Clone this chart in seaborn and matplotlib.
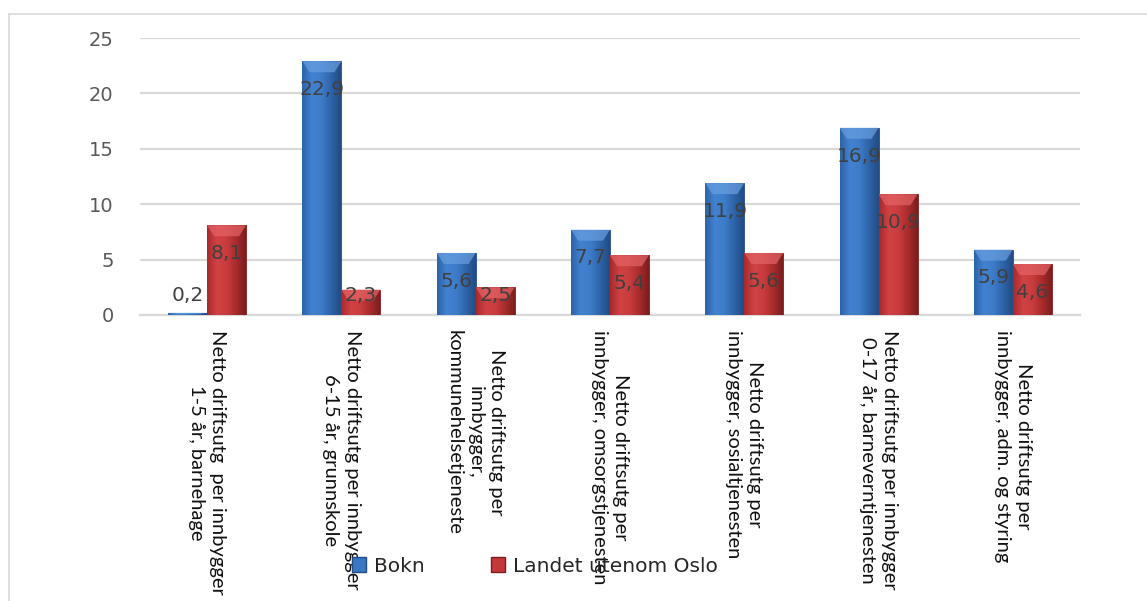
import matplotlib
matplotlib.use("Agg")
import matplotlib.pyplot as plt
import seaborn as sns
import pandas as pd
import numpy as np
from matplotlib.lines import Line2D
from matplotlib.patches import Polygon

sns.set_style("white")
plt.rcParams["font.family"] = ["DejaVu Sans"]

kategorier = [
    "Netto driftsutg  per innbygger\n1-5 år, barnehage",
    "Netto driftsutg per innbygger\n6-15 år, grunnskole",
    "Netto driftsutg per\ninnbygger,\nkommunehelsetjeneste",
    "Netto driftsutg per\ninnbygger, omsorgstjenesten",
    "Netto driftsutg per\ninnbygger, sosialtjenesten",
    "Netto driftsutg per innbygger\n0-17 år, barneverntjenesten",
    "Netto driftsutg per\ninnbygger, adm. og styring",
]
serier = ["Bokn", "Landet utenom Oslo"]
bokn = [0.2, 22.9, 5.6, 7.7, 11.9, 16.9, 5.9]
landet = [8.1, 2.3, 2.5, 5.4, 5.6, 10.9, 4.6]

df = pd.DataFrame({
    "kategori": kategorier * 2,
    "verdi": bokn + landet,
    "serie": [serier[0]] * len(bokn) + [serier[1]] * len(landet),
})

farger = {"Bokn": "#3a77c2", "Landet utenom Oslo": "#c5383a"}
gradient = {
    "Bokn": ["#2d64a8", "#4282d0", "#3d7cc8", "#2f64a8", "#214c85"],
    "Landet utenom Oslo": ["#a82a2c", "#d04244", "#c93c3e", "#a82c2d", "#7c1d1e"],
}
topp = {"Bokn": "#6a9fe0", "Landet utenom Oslo": "#e46466"}

fig = plt.figure(figsize=(11.47, 6.01), dpi=100)
ax = fig.add_axes([140 / 1147, 1 - 315 / 601, 940 / 1147, 277 / 601])

sns.barplot(data=df, x="kategori", y="verdi", hue="serie", palette=farger,
            width=0.58, saturation=1, ax=ax, legend=False, zorder=3)

ax.set_ylim(0, 25)
ax.set_yticks(range(0, 26, 5))
ax.grid(axis="y", color="#d9d9d9", linewidth=1.6, zorder=0)
ax.set_axisbelow(True)
for s in ["top", "right", "left"]:
    ax.spines[s].set_visible(False)
ax.spines["bottom"].set_color("#d9d9d9")
ax.spines["bottom"].set_linewidth(1.6)
ax.set_xlabel("")
ax.set_ylabel("")
ax.tick_params(axis="y", length=0, pad=19, labelsize=14, labelcolor="#595959")
ax.tick_params(axis="x", length=0, pad=11)
for lbl in ax.get_xticklabels():
    lbl.set_rotation(270)
    lbl.set_va("top")
    lbl.set_ha("center")
    lbl.set_multialignment("center")
    lbl.set_fontfamily("Lato")
    lbl.set_fontsize(14.5)
    lbl.set_linespacing(1.3)
    lbl.set_color("#111111")

# gradient fill and top bevel for each bar
px_y = 25 / 277
px_x = 1 / 134
for container, navn in zip(ax.containers, serier):
    cmap = matplotlib.colors.LinearSegmentedColormap.from_list(navn, gradient[navn])
    for bar, v in zip(container, bokn if navn == "Bokn" else landet):
        x0, w, h = bar.get_x(), bar.get_width(), bar.get_height()
        bar.set_edgecolor(gradient[navn][-1])
        bar.set_linewidth(0.6)
        im = ax.imshow(np.linspace(0, 1, 64).reshape(1, -1), cmap=cmap, aspect="auto",
                       extent=(x0, x0 + w, 0, h), zorder=3.5)
        im.set_clip_path(bar)
        b = min(11 * px_y, h * 0.5)
        inset = 7 * px_x
        ax.add_patch(Polygon([(x0, h), (x0 + w, h), (x0 + w - inset, h - b), (x0 + inset, h - b)],
                             closed=True, facecolor=topp[navn], edgecolor="none", alpha=0.7, zorder=4))
        tekst = f"{v:.1f}".replace(".", ",")
        ax.text(x0 + w / 2, max(v - 2.55, 1.75), tekst, ha="center", va="center",
                fontsize=14.5, color="#404040", zorder=5)

ax.set_xlim(-0.5, len(kategorier) - 0.5)

handles = [plt.Rectangle((0, 0), 1, 1, facecolor=farger[s], edgecolor=gradient[s][-1]) for s in serier]
fig.legend(handles, serier, loc="center", bbox_to_anchor=(535 / 1147, 1 - 566 / 601), ncol=2,
           frameon=False, fontsize=14.5, handlelength=0.7, handleheight=0.7, handletextpad=0.4,
           columnspacing=3.3)

# outer chart border
fig.add_artist(Line2D([9 / 1147, 9 / 1147], [0, 1 - 14 / 601], color="#d9d9d9", linewidth=1.2))
fig.add_artist(Line2D([9 / 1147, 1], [1 - 14 / 601, 1 - 14 / 601], color="#d9d9d9", linewidth=1.2))

fig.savefig("out.png", dpi=100)
